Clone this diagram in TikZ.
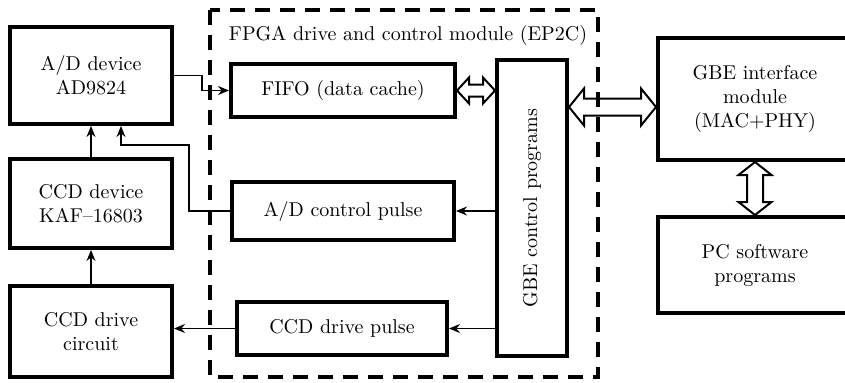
\documentclass[tikz,border=0pt]{standalone}
\usetikzlibrary{arrows.meta,calc}

\tikzset{
  box/.style={draw,line width=2pt,align=center,inner sep=2pt},
  link/.style={line width=0.6pt,-{Stealth[length=5.5pt,width=4.5pt]}},
  frame/.style={line width=2pt,dash pattern=on 7.5pt off 5pt},
  hollow/.style={line width=1pt,line join=miter}
}

% hollow two-headed arrow: ends, head half width, shaft half width, head length
\newcommand{\hollowarrow}[5]{%
  \path ($(#1)!#5!(#2)$) coordinate (ha) ($(#2)!#5!(#1)$) coordinate (hb);
  \draw[hollow] (#1) -- ($(ha)!#3!90:(#2)$) -- ($(ha)!#4!90:(#2)$)
    -- ($(hb)!#4!-90:(#1)$) -- ($(hb)!#3!-90:(#1)$) -- (#2)
    -- ($(hb)!#3!90:(#1)$) -- ($(hb)!#4!90:(#1)$)
    -- ($(ha)!#4!-90:(#2)$) -- ($(ha)!#3!-90:(#2)$) -- cycle;}

\begin{document}
\begin{tikzpicture}[x=0.5pt,y=-0.5pt]
	\useasboundingbox (0,0) rectangle (845,382);
	
	% FPGA module frame
	\draw[frame] (210,10) rectangle (598,377);
	\node (title) at (408,35) {FPGA drive and control module (EP2C)};
	
	% Left column
	\node[box,minimum width=81pt,minimum height=48.5pt] (ad) at (91,75.5) {A/D device\\AD9824};
	\node[box,minimum width=81pt,minimum height=44.5pt] (ccd) at (91,203.5) {CCD device\\KAF--16803};
	\node[box,minimum width=81pt,minimum height=45.5pt] (drv) at (91,331.5) {CCD drive\\circuit};
	
	% Inside the FPGA
	\node[box,minimum width=112pt,minimum height=26.5pt] (fifo) at (343,90.5) {FIFO (data cache)};
	\node[box,minimum width=111pt,minimum height=29pt] (adc) at (343,211) {A/D control pulse};
	\node[box,minimum width=105pt,minimum height=26.5pt] (ccdp) at (342,328.5) {CCD drive pulse};
	\node[box,minimum width=35pt,minimum height=148pt] (gbec) at (532,208) {\rotatebox{90}{GBE control programs}};
	
	% Right column
	\node[box,minimum width=97pt,minimum height=61pt] (gbei) at (755,99) {GBE interface\\module\\(MAC+PHY)};
	\node[box,minimum width=97pt,minimum height=48pt] (pc) at (755,265) {PC software\\programs};
	
	% Signal lines
	\draw[link] (ad.east) -- ++(28,0) |- (fifo.west);
	\coordinate (turn) at (189,145);
	\draw[link] (adc.west) -| (turn) -| ($(ad.south)+(30,0)$);
	\draw[link] (ccd.north) -- (ad.south);
	\draw[link] (drv.north) -- (ccd.south);
	\draw[link] (gbec.west |- adc.east) -- (adc.east);
	\draw[link] (gbec.west |- ccdp.east) -- (ccdp.east);
	\draw[link] (ccdp.west) -- (drv.east |- ccdp.west);
	
	% Data buses
	\coordinate (fifoend) at (gbec.west |- fifo.east);
	\hollowarrow{fifo.east}{fifoend}{6.5pt}{3pt}{6pt}
	\coordinate (gbeiend) at ([yshift=-4pt]gbei.west);
	\coordinate (gbecend) at (gbec.east |- gbeiend);
	\hollowarrow{gbecend}{gbeiend}{9.25pt}{4.25pt}{7.5pt}
	\hollowarrow{gbei.south}{pc.north}{8.25pt}{4pt}{6.5pt}
	
\end{tikzpicture}
\end{document}
